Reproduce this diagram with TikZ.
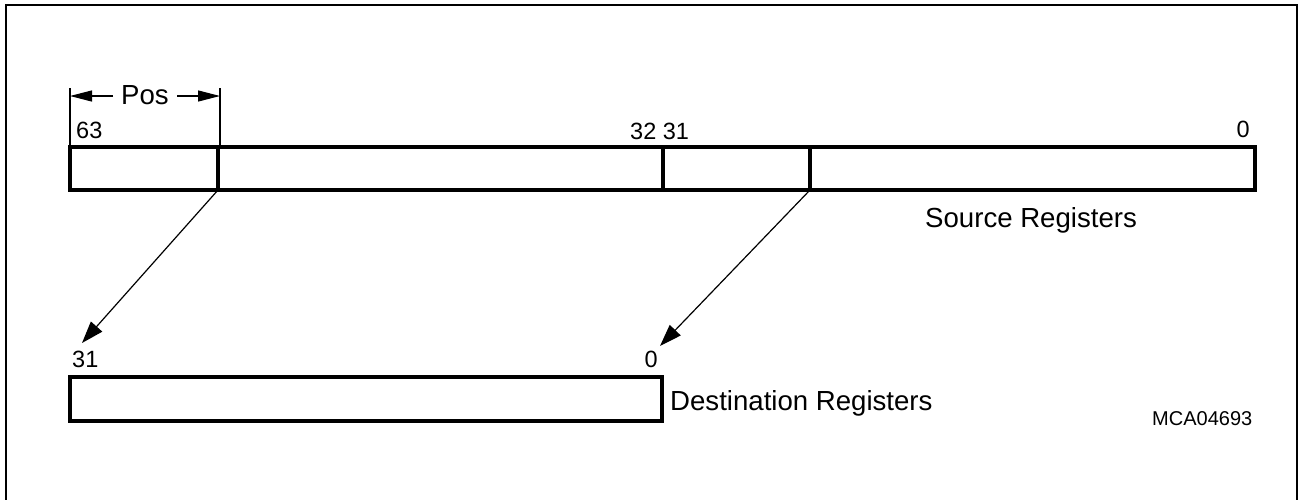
\documentclass[tikz,border=0pt]{standalone}
\usepackage{fontspec}
\setmainfont{Liberation Sans}
\usetikzlibrary{arrows.meta}
\begin{document}
\begin{tikzpicture}[x=1pt,y=-1pt,
  cell/.style={draw,line width=3.6pt,minimum height=43pt,inner sep=0pt,outer sep=0pt,anchor=north west},
  lbl/.style={inner sep=0pt,font=\fontsize{27.6}{32}\selectfont},
  bitno/.style={inner sep=0pt,font=\fontsize{23.5}{27}\selectfont},
  tag/.style={inner sep=0pt,font=\fontsize{20}{24}\selectfont},
  link/.style={line width=1.2pt,-{Triangle[length=22pt,width=15pt]}},
  dim/.style={line width=1.2pt,-{Triangle[length=22pt,width=11pt]}},
  thin/.style={line width=1.2pt}]
\useasboundingbox (0,0) rectangle (1298,499);
% outer frame (open at the bottom edge of the page)
\draw[line width=2.4pt] (6,505) -- (6,5) -- (1297,5) -- (1297,505);

% source register, split into four fields
\node[cell,minimum width=148pt] (s1) at (70,147) {};
\node[cell,minimum width=445pt] (s2) at (218,147) {};
\node[cell,minimum width=147pt] (s3) at (663,147) {};
\node[cell,minimum width=445pt] (s4) at (810,147) {};

% destination register
\node[cell,minimum width=592pt,minimum height=44pt] (dst) at (70,377) {};

% bit numbers
\node[bitno,anchor=base west] (b63) at (76,138) {63};
\node[bitno,anchor=base west] (b3231) at (630,139) {32 31};
\node[bitno,anchor=base east] (b0) at (1250,137) {0};
\node[bitno,anchor=base west] (d31) at (72,367) {31};
\node[bitno,anchor=base east] (d0) at (658,367) {0};

% register captions
\node[lbl,anchor=base west] (srcl) at (925,227) {Source Registers};
\node[lbl,anchor=base west] (dstl) at (670,410) {Destination Registers};
\node[tag,anchor=base west] (id) at (1152,425) {MCA04693};

% Pos dimension
\node[lbl,anchor=base] (pos) at (145,104) {Pos};
\coordinate (tL) at (70,88);
\coordinate (tR) at (220,88);
\draw[thin] (tL) -- (tL |- s1.north);
\draw[thin] (tR) -- (tR |- s1.north);
\coordinate (pl) at (113,96);
\coordinate (pr) at (177,96);
\draw[dim] (pl) -- (tL |- pl);
\draw[dim] (pr) -- (tR |- pr);

% field moves
\coordinate (tipA) at (82,343);
\coordinate (tipB) at (660,346);
\draw[link] (s1.south east) -- (tipA);
\draw[link] (s4.south west) -- (tipB);
\end{tikzpicture}
\end{document}
